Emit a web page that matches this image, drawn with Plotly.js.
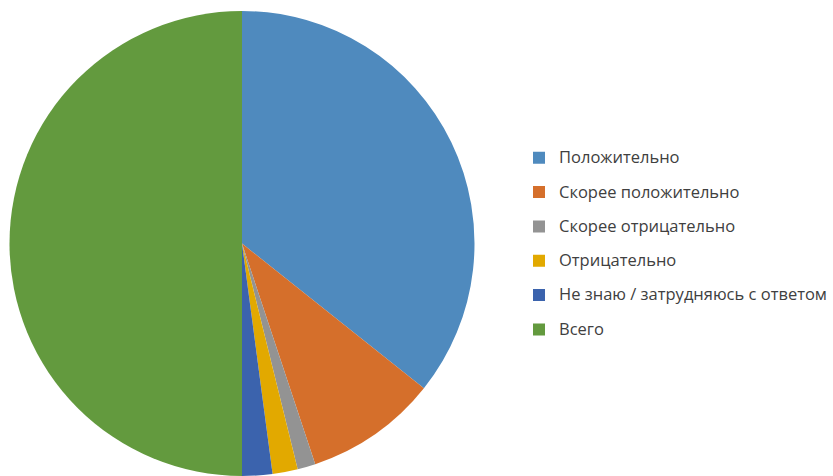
<!DOCTYPE html>
<html><head><meta charset="utf-8">
<script src="https://cdn.plot.ly/plotly-3.0.1.min.js"></script>
<style>html,body{margin:0;padding:0;overflow:hidden;background:#fff}</style>
</head><body><div id="chart" style="width:833px;height:476px"></div>
<script>
const labels = ["Положительно", "Скорее положительно", "Скорее отрицательно", "Отрицательно", "Не знаю / затрудняюсь с ответом", "Всего"];
const values = [71.4, 18.4, 2.5, 3.5, 4.2, 100];
const colors = ["#4f8abe", "#d56f2b", "#939393", "#e2a900", "#3b63ad", "#639a3e"];

const legendLabels = labels.map(l => '<span style="font-size:16.5px;baseline-shift:4px">' + l + '</span>');

const trace = {
  type: "pie",
  labels: legendLabels,
  values: values,
  sort: false,
  direction: "clockwise",
  rotation: 0,
  textinfo: "none",
  hoverinfo: "none",
  marker: {colors: colors, line: {width: 0}},
  domain: {x: [9/833, 475/833], y: [0, 1]}
};

const layout = {
  width: 833, height: 476,
  margin: {l: 0, r: 0, t: 11, b: 0},
  paper_bgcolor: "#ffffff",
  showlegend: true,
  legend: {
    x: 519/833, xanchor: "left",
    y: 1 - (135.6 - 11)/465, yanchor: "top",
    font: {family: "Open Sans, sans-serif", size: 24.1, color: "#404040"},
    bgcolor: "rgba(0,0,0,0)", borderwidth: 0
  }
};

Plotly.newPlot("chart", [trace], layout, {staticPlot: true, displayModeBar: false});
</script></body></html>
